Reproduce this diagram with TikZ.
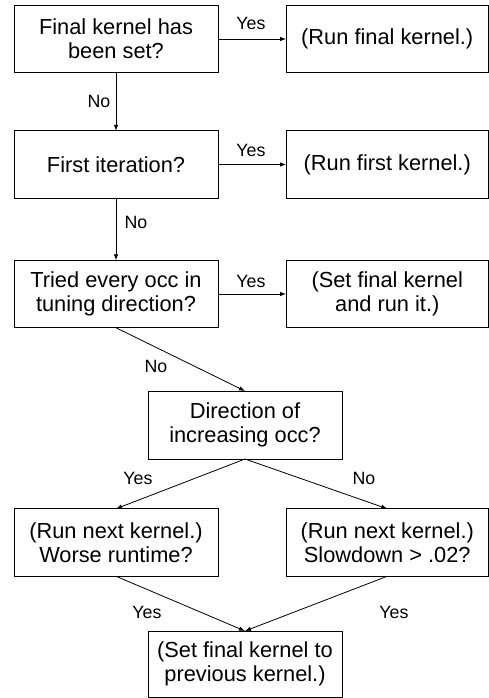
\documentclass[tikz,border=0pt]{standalone}
\usepackage{fontspec}
\setmainfont{Liberation Sans}
\usetikzlibrary{arrows.meta}

\tikzset{
    box/.style={draw, line width=1pt, inner sep=0pt, outer sep=0pt, align=center,
        font=\fontsize{21.8}{24}\selectfont},
    leftbox/.style={box, minimum width=204pt, minimum height=67.5pt},
    rightbox/.style={box, minimum width=202.5pt, minimum height=67.5pt},
    midbox/.style={box, minimum width=194pt, minimum height=68pt},
    lbl/.style={font=\fontsize{17.8}{20}\selectfont, inner sep=0pt},
    freccia/.style={line width=0.8pt, -{Latex[length=6pt,width=4.5pt]}}
}

\begin{document}
\begin{tikzpicture}[x=1pt, y=-1pt]
        % Area del disegno
        \useasboundingbox (0,0) rectangle (489,698);

        % Colonna delle domande
        \node[leftbox] (finale) at (116,39) {Final kernel has\\been set?};
        \node[leftbox] (primo) at (116,164.5) {First iteration?};
        \node[leftbox] (provati) at (116,294) {Tried every occ in\\tuning direction?};

        % Colonna delle azioni
        \node[rightbox] (runfinale) at (387.25,39) {(Run final kernel.)};
        \node[rightbox] (runprimo) at (387.25,164.5) {(Run first kernel.)};
        \node[rightbox] (setfinale) at (387.25,294) {(Set final kernel\\and run it.)};

        % Direzione e ramificazione
        \node[midbox] (direzione) at (245,425) {Direction of\\increasing occ?};
        \node[leftbox] (peggiore) at (116,542.5) {(Run next kernel.)\\Worse runtime?};
        \node[rightbox] (rallenta) at (387.25,542.5) {(Run next kernel.)\\Slowdown > .02?};
        \node[midbox, minimum height=66.5pt] (precedente) at (245,664.25) {(Set final kernel to\\previous kernel.)};

        % Frecce
        \draw[freccia] (finale) -- (runfinale);
        \draw[freccia] (primo) -- (runprimo);
        \draw[freccia] (provati) -- (setfinale);
        \draw[freccia] (finale) -- (primo);
        \draw[freccia] (primo) -- (provati);
        \draw[freccia] (provati.south) -- (direzione.north);
        \draw[freccia] (direzione.south) -- (peggiore.north);
        \draw[freccia] (direzione.south) -- (rallenta.north);
        \draw[freccia] (peggiore.south) -- (precedente.north);
        \draw[freccia] (rallenta.south) -- (precedente.north);

        % Etichette
        \node[lbl] (si1) at (251,23) {Yes};
        \node[lbl] (si2) at (251,150) {Yes};
        \node[lbl] (si3) at (251,281) {Yes};
        \node[lbl] (no1) at (99,101) {No};
        \node[lbl] (no2) at (136,222) {No};
        \node[lbl] (no3) at (156,366) {No};
        \node[lbl] (si4) at (138,478) {Yes};
        \node[lbl] (no4) at (364,478) {No};
        \node[lbl] (si5) at (147,612) {Yes};
        \node[lbl] (si6) at (394,612) {Yes};
    \end{tikzpicture}
\end{document}
